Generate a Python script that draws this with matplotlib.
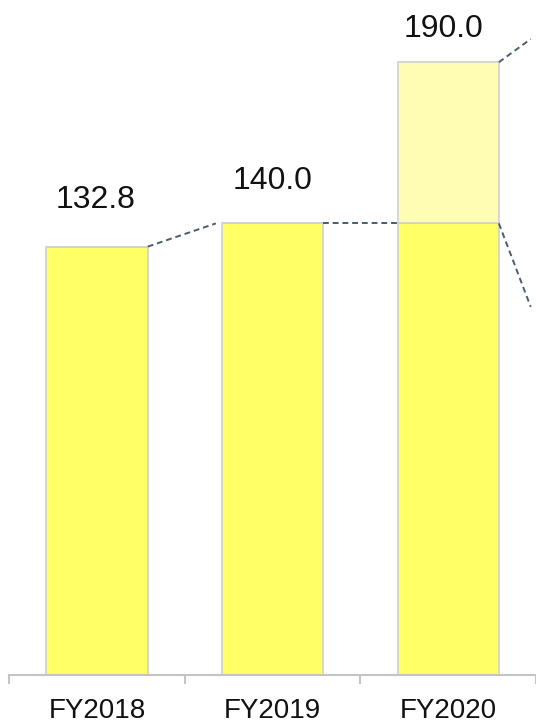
import matplotlib
matplotlib.use("Agg")
import matplotlib.pyplot as plt

plt.rcParams['font.family'] = ['Liberation Sans', 'DejaVu Sans']

# Data
years = ['FY2018', 'FY2019', 'FY2020']
base_values = [132.8, 140.0, 140.0]     # solid yellow part
extra_values = [0.0, 0.0, 50.0]         # pale top part (FY2020 plan uplift)
totals = [132.8, 140.0, 190.0]
# callout box sitting right of the chart (top and bottom edge, in value units)
callout_x = 2.47
callout_y = [197.2, 114.1]

BAR = '#FFFF66'
BAR_LIGHT = '#FFFDB3'
EDGE = '#D0D0D0'
DASH = '#4A5D70'
AXIS = '#C4C4C4'

fig = plt.figure(figsize=(5.36, 7.26), dpi=100)
ax = fig.add_axes([9.3 / 536, 51.3 / 726, 1 - 9.3 / 536, 1 - 51.3 / 726])

x = list(range(len(years)))
width = 0.577
ax.bar(x, base_values, width=width, color=BAR, edgecolor=EDGE, linewidth=1.2, zorder=2)
ax.bar(x, extra_values, bottom=base_values, width=width, color=BAR_LIGHT,
       edgecolor=EDGE, linewidth=1.2, zorder=2)

# dashed connectors between bar tops
half = width / 2
dash_kw = dict(color=DASH, linestyle=(0, (3, 2)), linewidth=1.4, zorder=3)
ax.plot([0 + half, 1 - half - 0.035], [totals[0], totals[1]], **dash_kw)
ax.plot([1 + half, 2 - half], [totals[1], base_values[2]], **dash_kw)
# FY2020 lines running out to the callout
ax.plot([2 + half, callout_x], [totals[2], callout_y[0]], **dash_kw)
ax.plot([2 + half, callout_x], [base_values[2], callout_y[1]], **dash_kw)

# value labels above bars (offsets in points)
label_dx = [-1.2, 0, -3.6]
label_dy = [27.6, 24.5, 18.4]
for i, v in enumerate(totals):
    ax.annotate(f'{v:.1f}', xy=(i, v), xytext=(label_dx[i], label_dy[i]),
                textcoords='offset points', ha='center', va='baseline',
                fontsize=23, color='#111111')

ax.set_xlim(-0.5, 2.468)
ax.set_ylim(0, 209.3)

for side in ['top', 'right', 'left']:
    ax.spines[side].set_visible(False)
ax.spines['bottom'].set_color(AXIS)
ax.spines['bottom'].set_linewidth(1.5)
ax.spines['bottom'].set_zorder(4)

ax.set_yticks([])
ax.set_xticks(x)
ax.set_xticklabels(years, fontsize=20, color='#111111')
ax.tick_params(axis='x', which='major', length=0, pad=16.5)
ax.set_xticks([-0.5, 0.5, 1.5, 2.5], minor=True)
ax.tick_params(axis='x', which='minor', length=6.5, width=1.5, color=AXIS)

fig.savefig('out.png', dpi=100, facecolor='white')
